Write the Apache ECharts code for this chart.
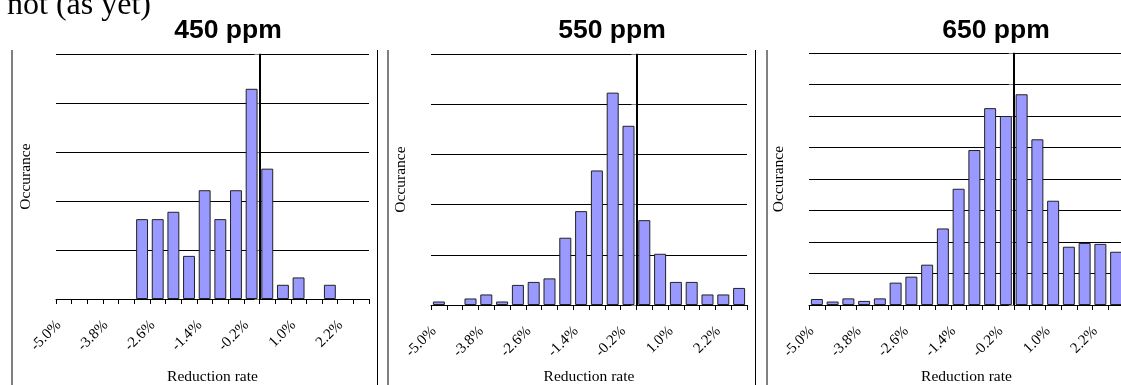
<!DOCTYPE html>
<html>
<head>
<meta charset="utf-8">
<script src="https://cdn.jsdelivr.net/npm/echarts@6/dist/echarts.min.js"></script>
<style>
  html, body { margin: 0; padding: 0; background: #fff; }
  #chart { width: 1121px; height: 385px; }
</style>
</head>
<body>
<div id="chart"></div>
<script>
// bin centres of the reduction rate histogram (%)
const binCentres = [-5.0, -4.6, -4.2, -3.8, -3.4, -3.0, -2.6, -2.2, -1.8, -1.4,
                    -1.0, -0.6, -0.2, 0.2, 0.6, 1.0, 1.4, 1.8, 2.2, 2.6];
const binLabels = binCentres.map((v) => v.toFixed(1) + "%");
const binEdges = [-5.2, 2.8];
const zeroRate = 0;

const panelTitles = ["450 ppm", "550 ppm", "650 ppm"];

// occurrence, in units of the (unlabelled) gridline spacing
const occ450 = [0, 0, 0, 0, 0, 1.63, 1.63, 1.78, 0.88, 2.22,
                1.63, 2.22, 4.29, 2.66, 0.29, 0.44, 0, 0.29, 0, 0];
const occ550 = [0.07, 0, 0.13, 0.21, 0.07, 0.40, 0.46, 0.53, 1.34, 1.87,
                2.68, 4.23, 3.57, 1.69, 1.02, 0.46, 0.46, 0.21, 0.21, 0.34];
const occ650 = [0.19, 0.11, 0.21, 0.13, 0.21, 0.71, 0.90, 1.28, 2.43, 3.69,
                4.92, 6.25, 6.00, 6.69, 5.26, 3.31, 1.85, 1.97, 1.94, 1.69];
const yMax = [5, 5, 8];

const panels = [
  { data: occ450, grid: { left: 56, top: 54, width: 313, height: 245 }, nameGap: 70, titleX: 223 },
  { data: occ550, grid: { left: 431, top: 54, width: 316, height: 251 }, nameGap: 64, titleX: 607 },
  { data: occ650, grid: { left: 809, top: 53, width: 315, height: 252 }, nameGap: 64, titleX: 991 },
];

const serif = "'Liberation Serif', 'Times New Roman', serif";
const sans = "'Liberation Sans', Arial, sans-serif";

const chart = echarts.init(document.getElementById("chart"), null, { renderer: "canvas" });

const grids = [], xAxes = [], yAxes = [], series = [], titles = [];

panels.forEach((p, i) => {
  grids.push(Object.assign({ containLabel: false, outerBoundsMode: "none" }, p.grid));

  xAxes.push({
    type: "category",
    gridIndex: i,
    data: binLabels,
    boundaryGap: true,
    name: "Reduction rate",
    nameLocation: "middle",
    nameGap: p.nameGap,
    nameTextStyle: { fontFamily: serif, fontSize: 15.5, color: "#000" },
    axisLine: { lineStyle: { color: "#000", width: 1 } },
    axisTick: { show: true, interval: 0, length: 5, lineStyle: { color: "#000" } },
    axisLabel: {
      interval: 2,
      rotate: 45,
      margin: 19,
      padding: [0, 7, 0, 0],
      fontFamily: serif,
      fontSize: 15,
      color: "#000",
    },
    splitLine: { show: false },
  });

  yAxes.push({
    type: "value",
    gridIndex: i,
    min: 0,
    max: yMax[i],
    interval: 1,
    name: "Occurance",
    nameLocation: "middle",
    nameRotate: 90,
    nameGap: 22,
    nameTextStyle: { fontFamily: serif, fontSize: 15.5, color: "#000" },
    axisLine: { show: true, lineStyle: { color: "#808080", width: 1.5 } },
    axisTick: { show: true, length: 5, lineStyle: { color: "#808080" } },
    axisLabel: { show: false },
    splitLine: { show: true, lineStyle: { color: "#000", width: 1 } },
  });

  series.push({
    type: "bar",
    xAxisIndex: i,
    yAxisIndex: i,
    // empty bins get no bar at all
    data: p.data.map((v) => (v === 0 ? "-" : v)),
    barCategoryGap: "24%",
    itemStyle: { color: "#9999ff", borderColor: "#222", borderWidth: 1 },
    silent: true,
    z: 2,
  });

  titles.push({
    text: panelTitles[i],
    left: p.titleX,
    top: 12,
    textAlign: "center",
    textStyle: { fontFamily: sans, fontSize: 26.5, fontWeight: "bold", color: "#000" },
  });
});

// hidden value axes over the bin edges, used for the zero line
panels.forEach((p, i) => {
  xAxes.push({
    type: "value",
    gridIndex: i,
    min: binEdges[0],
    max: binEdges[1],
    show: false,
  });
  series.push({
    type: "line",
    xAxisIndex: 3 + i,
    yAxisIndex: i,
    data: [[zeroRate, 0]],
    showSymbol: false,
    silent: true,
    z: 5,
    markLine: {
      silent: true,
      symbol: ["none", "none"],
      label: { show: false },
      lineStyle: { color: "#000", width: 2, type: "solid" },
      data: [{ xAxis: zeroRate }],
    },
  });
});

// frame lines between the pasted slide panels
const sepX = [12, 377.5, 388, 755.5, 767];
const graphic = sepX.map((x) => ({
  type: "line",
  shape: { x1: x, y1: 50, x2: x, y2: 385 },
  style: { stroke: "#000", lineWidth: 1 },
  silent: true,
}));
graphic.push({
  type: "text",
  left: 7,
  top: -10,
  style: { text: "not (as yet)", font: "32px " + serif, fill: "#000" },
  silent: true,
});

chart.setOption({
  animation: false,
  backgroundColor: "#fff",
  title: titles,
  grid: grids,
  xAxis: xAxes,
  yAxis: yAxes,
  series: series,
  graphic: graphic,
});
</script>
</body>
</html>
